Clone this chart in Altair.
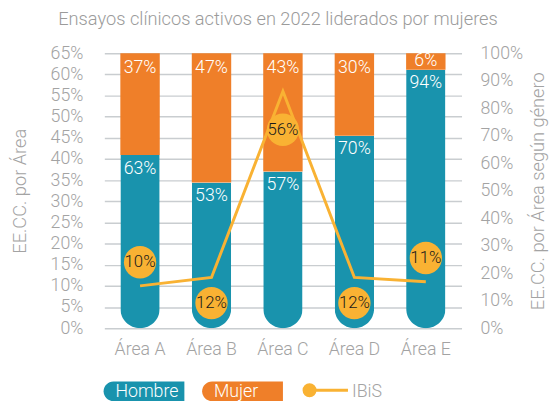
import altair as alt
import pandas as pd

areas = ["Área A", "Área B", "Área C", "Área D", "Área E"]
hombre = [63, 53, 57, 70, 94]
mujer = [37, 47, 43, 30, 6]
ibis = [10, 12, 56, 12, 11]

TEAL = "#1993ad"
ORANGE = "#ef7f29"
YELLOW = "#f9b233"
GRAY = "#a3a3a3"
TITLE_GRAY = "#9b9b9b"
GRID = "#c9cdd0"
FONT = "Roboto"
FW = 300
FS = 18

df = pd.DataFrame({"area": areas, "hombre": hombre, "mujer": mujer, "ibis": ibis})

x = alt.X(
    "area:N", sort=areas,
    scale=alt.Scale(range=[12.75, 375.25], paddingInner=0, paddingOuter=0),
    axis=alt.Axis(title=None, labelAngle=0, labelFontSize=FS, labelColor=GRAY,
                  labelFont=FONT, labelFontWeight=FW, labelPadding=13, ticks=False,
                  domain=False, grid=False),
)

y_right_scale = alt.Scale(domain=[0, 100], nice=False)
axis_right = alt.Axis(
    orient="right", values=list(range(0, 101, 10)), labelExpr="datum.value + '%'",
    grid=False, ticks=False, domain=False, labelFontSize=FS, labelColor=GRAY,
    labelFont=FONT, labelFontWeight=FW, labelPadding=16, labelAlign="left",
    title="EE.CC. por Área según género", titleFontSize=18.5, titleColor=GRAY,
    titleFont=FONT, titleFontWeight=FW, titleAngle=270, titleX=74,
    titleY=139.5, titleBaseline="middle", titleAlign="center",
)

y_left_scale = alt.Scale(domain=[0, 65], nice=False)
axis_left = alt.Axis(
    orient="left", values=list(range(0, 66, 5)), labelExpr="datum.value + '%'",
    grid=True, gridColor=GRID, gridWidth=1.5, ticks=False, domain=False,
    labelFontSize=FS, labelColor=GRAY, labelFont=FONT, labelFontWeight=FW, labelPadding=9,
    title="EE.CC. por Área", titleFontSize=18.5, titleColor=GRAY, titleFont=FONT,
    titleFontWeight=FW, titleAngle=270, titleX=-73, titleY=139.5,
    titleBaseline="middle", titleAlign="center",
)

base = alt.Chart(df).transform_calculate(
    total="100",
    h_lab="datum.hombre + '%'",
    m_lab="datum.mujer + '%'",
    my="100 - min(datum.mujer / 2, 5.3)",
    i_lab="datum.ibis + '%'",
)

hombre_bar = base.mark_bar(
    size=40, color=TEAL, cornerRadiusBottomLeft=20, cornerRadiusBottomRight=20
).encode(x=x, y=alt.Y("hombre:Q", scale=y_right_scale, axis=axis_right))

mujer_bar = base.mark_bar(size=40, color=ORANGE).encode(
    x=x, y=alt.Y("total:Q", scale=y_right_scale, axis=axis_right), y2="hombre:Q"
)

hombre_txt = base.mark_text(
    color="white", fontSize=FS, font=FONT, fontWeight=FW, baseline="middle", dy=14
).encode(x=x, y=alt.Y("hombre:Q", scale=y_right_scale, axis=axis_right), text="h_lab:N")

mujer_txt = base.mark_text(
    color="white", fontSize=FS, font=FONT, fontWeight=FW, baseline="middle"
).encode(x=x, y=alt.Y("my:Q", scale=y_right_scale, axis=axis_right), text="m_lab:N")

bars = alt.layer(hombre_bar, mujer_bar, hombre_txt, mujer_txt)

y_line = alt.Y("ibis:Q", scale=y_left_scale, axis=axis_left)

line = base.mark_line(color=YELLOW, strokeWidth=3).encode(x=x, y=y_line)


def bubble(areas_sel, off):
    sel = base.transform_filter(alt.FieldOneOfPredicate(field="area", oneOf=areas_sel))
    c = sel.mark_circle(size=1075, color=YELLOW, opacity=1, yOffset=off).encode(x=x, y=y_line)
    t = sel.mark_text(color="#1a1a1a", fontSize=17, font=FONT, fontWeight=FW,
                      baseline="middle", yOffset=off).encode(x=x, y=y_line, text="i_lab:N")
    return [c, t]


ibis_layer = alt.layer(
    line,
    *bubble(["Área A", "Área E"], -24),
    *bubble(["Área B", "Área D"], 26),
    *bubble(["Área C"], 39),
)

leg_df = pd.DataFrame({"k": [0]})
leg = alt.Chart(leg_df)
leg_h = leg.mark_rect(color=TEAL, cornerRadiusTopLeft=10, cornerRadiusBottomLeft=10).encode(
    x=alt.value(12), x2=alt.value(94), y=alt.value(333), y2=alt.value(353))
leg_h_t = leg.mark_text(color="white", fontSize=FS, font=FONT, fontWeight=FW, align="left",
                        baseline="middle").encode(
    x=alt.value(24), y=alt.value(343.5), text=alt.value("Hombre"))
leg_m = leg.mark_rect(color=ORANGE, cornerRadiusTopLeft=10, cornerRadiusBottomLeft=10).encode(
    x=alt.value(112), x2=alt.value(194), y=alt.value(333), y2=alt.value(353))
leg_m_t = leg.mark_text(color="white", fontSize=FS, font=FONT, fontWeight=FW, align="left",
                        baseline="middle").encode(
    x=alt.value(124), y=alt.value(343.5), text=alt.value("Mujer"))
leg_l = leg.mark_rule(color=YELLOW, strokeWidth=3).encode(
    x=alt.value(221), x2=alt.value(260), y=alt.value(342))
leg_c = leg.mark_circle(color=YELLOW, opacity=1, size=200).encode(
    x=alt.value(221), y=alt.value(342))
leg_i_t = leg.mark_text(color=GRAY, fontSize=FS, font=FONT, fontWeight=FW, align="left",
                        baseline="middle").encode(
    x=alt.value(264), y=alt.value(343.5), text=alt.value("IBiS"))

legend = alt.layer(leg_h, leg_h_t, leg_m, leg_m_t, leg_l, leg_c, leg_i_t)

chart = alt.layer(bars, ibis_layer, legend).resolve_scale(y="independent").properties(
    width=378, height=279,
    autosize=alt.AutoSizeParams(type="none"),
    padding={"left": 85, "top": 43, "right": 86, "bottom": 75},
    title=alt.TitleParams(
        text="Ensayos clínicos activos en 2022 liderados por mujeres",
        fontSize=18.5, color=TITLE_GRAY, font=FONT, fontWeight=FW,
        anchor="middle", offset=16,
    ),
    background="white",
).configure_view(stroke=None)

chart.save("out.html", embed_options={"renderer": "svg", "actions": False})
